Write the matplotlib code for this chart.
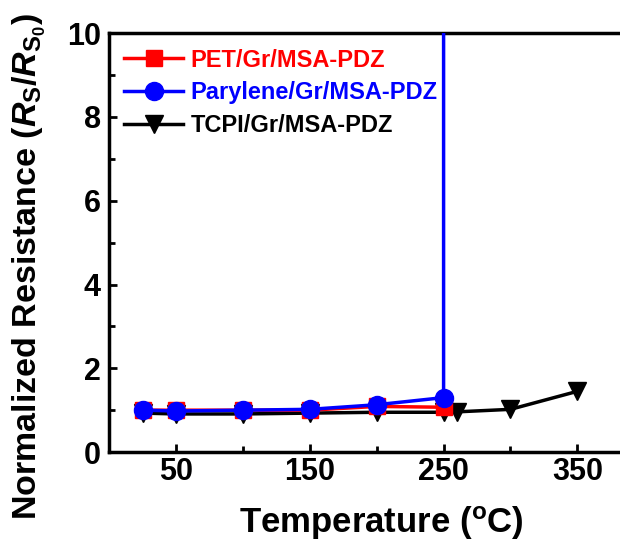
import numpy as np
import matplotlib
matplotlib.use("Agg")
import matplotlib.pyplot as plt

plt.rcParams['font.family'] = ['Liberation Sans', 'DejaVu Sans']
plt.rcParams['font.weight'] = 'bold'
plt.rcParams['mathtext.fontset'] = 'custom'
plt.rcParams['mathtext.rm'] = 'Liberation Sans:bold'
plt.rcParams['mathtext.it'] = 'Liberation Sans:italic:bold'
plt.rcParams['mathtext.bf'] = 'Liberation Sans:bold'

# sheet resistance ratio vs annealing temperature
pet_t = [25, 50, 100, 150, 200, 250]
pet_r = [1.0, 1.0, 1.0, 1.0, 1.09, 1.07]

pary_t = [25, 50, 100, 150, 200, 250, 250]
pary_r = [1.0, 0.98, 1.0, 1.02, 1.13, 1.30, 100.0]   # film fails above 250 C

tcpi_t = [25, 50, 100, 150, 200, 250, 260, 300, 350]
tcpi_r = [0.93, 0.91, 0.91, 0.93, 0.95, 0.95, 0.96, 1.02, 1.45]

fig = plt.figure(figsize=(6.2, 5.44), dpi=100)
ax = fig.add_axes([0.176, 0.169, 0.82, 0.77])

ax.plot(tcpi_t, tcpi_r, color='black', lw=2.5, marker='v', ms=13,
        label='TCPI/Gr/MSA-PDZ', zorder=2)
ax.plot(pet_t, pet_r, color='red', lw=2.5, marker='s', ms=12,
        label='PET/Gr/MSA-PDZ', zorder=3)
ax.plot(pary_t, pary_r, color='blue', lw=2.5, marker='o', ms=13,
        label='Parylene/Gr/MSA-PDZ', zorder=4)

ax.set_xlim(0, 380)
ax.set_ylim(0, 10)
ax.set_xticks([50, 150, 250, 350])
ax.set_xticks([100, 200, 300], minor=True)
ax.set_yticks([0, 2, 4, 6, 8, 10])
ax.set_yticks([1, 3, 5, 7, 9], minor=True)
ax.tick_params(which='both', direction='in', labelsize=22, width=2)
ax.tick_params(which='major', length=6)
ax.tick_params(which='minor', length=4)
ax.tick_params(axis='y', pad=6)
for s in ['left', 'bottom', 'top']:
    ax.spines[s].set_linewidth(2.5)
ax.spines['right'].set_visible(False)

ax.set_xlabel(r'Temperature ($^{\rm o}$C)', fontsize=25, fontweight='bold')
ax.xaxis.set_label_coords(0.535, -0.125)
ax.set_ylabel(r'Normalized Resistance ($R_{\rm S}$/$R_{{\rm S}_{\rm 0}}$)',
              fontsize=24.5, fontweight='bold')
ax.yaxis.set_label_coords(-0.12, 0.444)

h, l = ax.get_legend_handles_labels()
order = [1, 2, 0]
leg = ax.legend([h[i] for i in order], [l[i] for i in order], loc='upper left',
                frameon=False, fontsize=17, handlelength=2.5,
                borderaxespad=0.25, labelspacing=0.42, handletextpad=0.3)
for txt, c in zip(leg.get_texts(), ['red', 'blue', 'black']):
    txt.set_color(c)
    txt.set_fontweight('bold')

fig.savefig('out.png', dpi=100)
